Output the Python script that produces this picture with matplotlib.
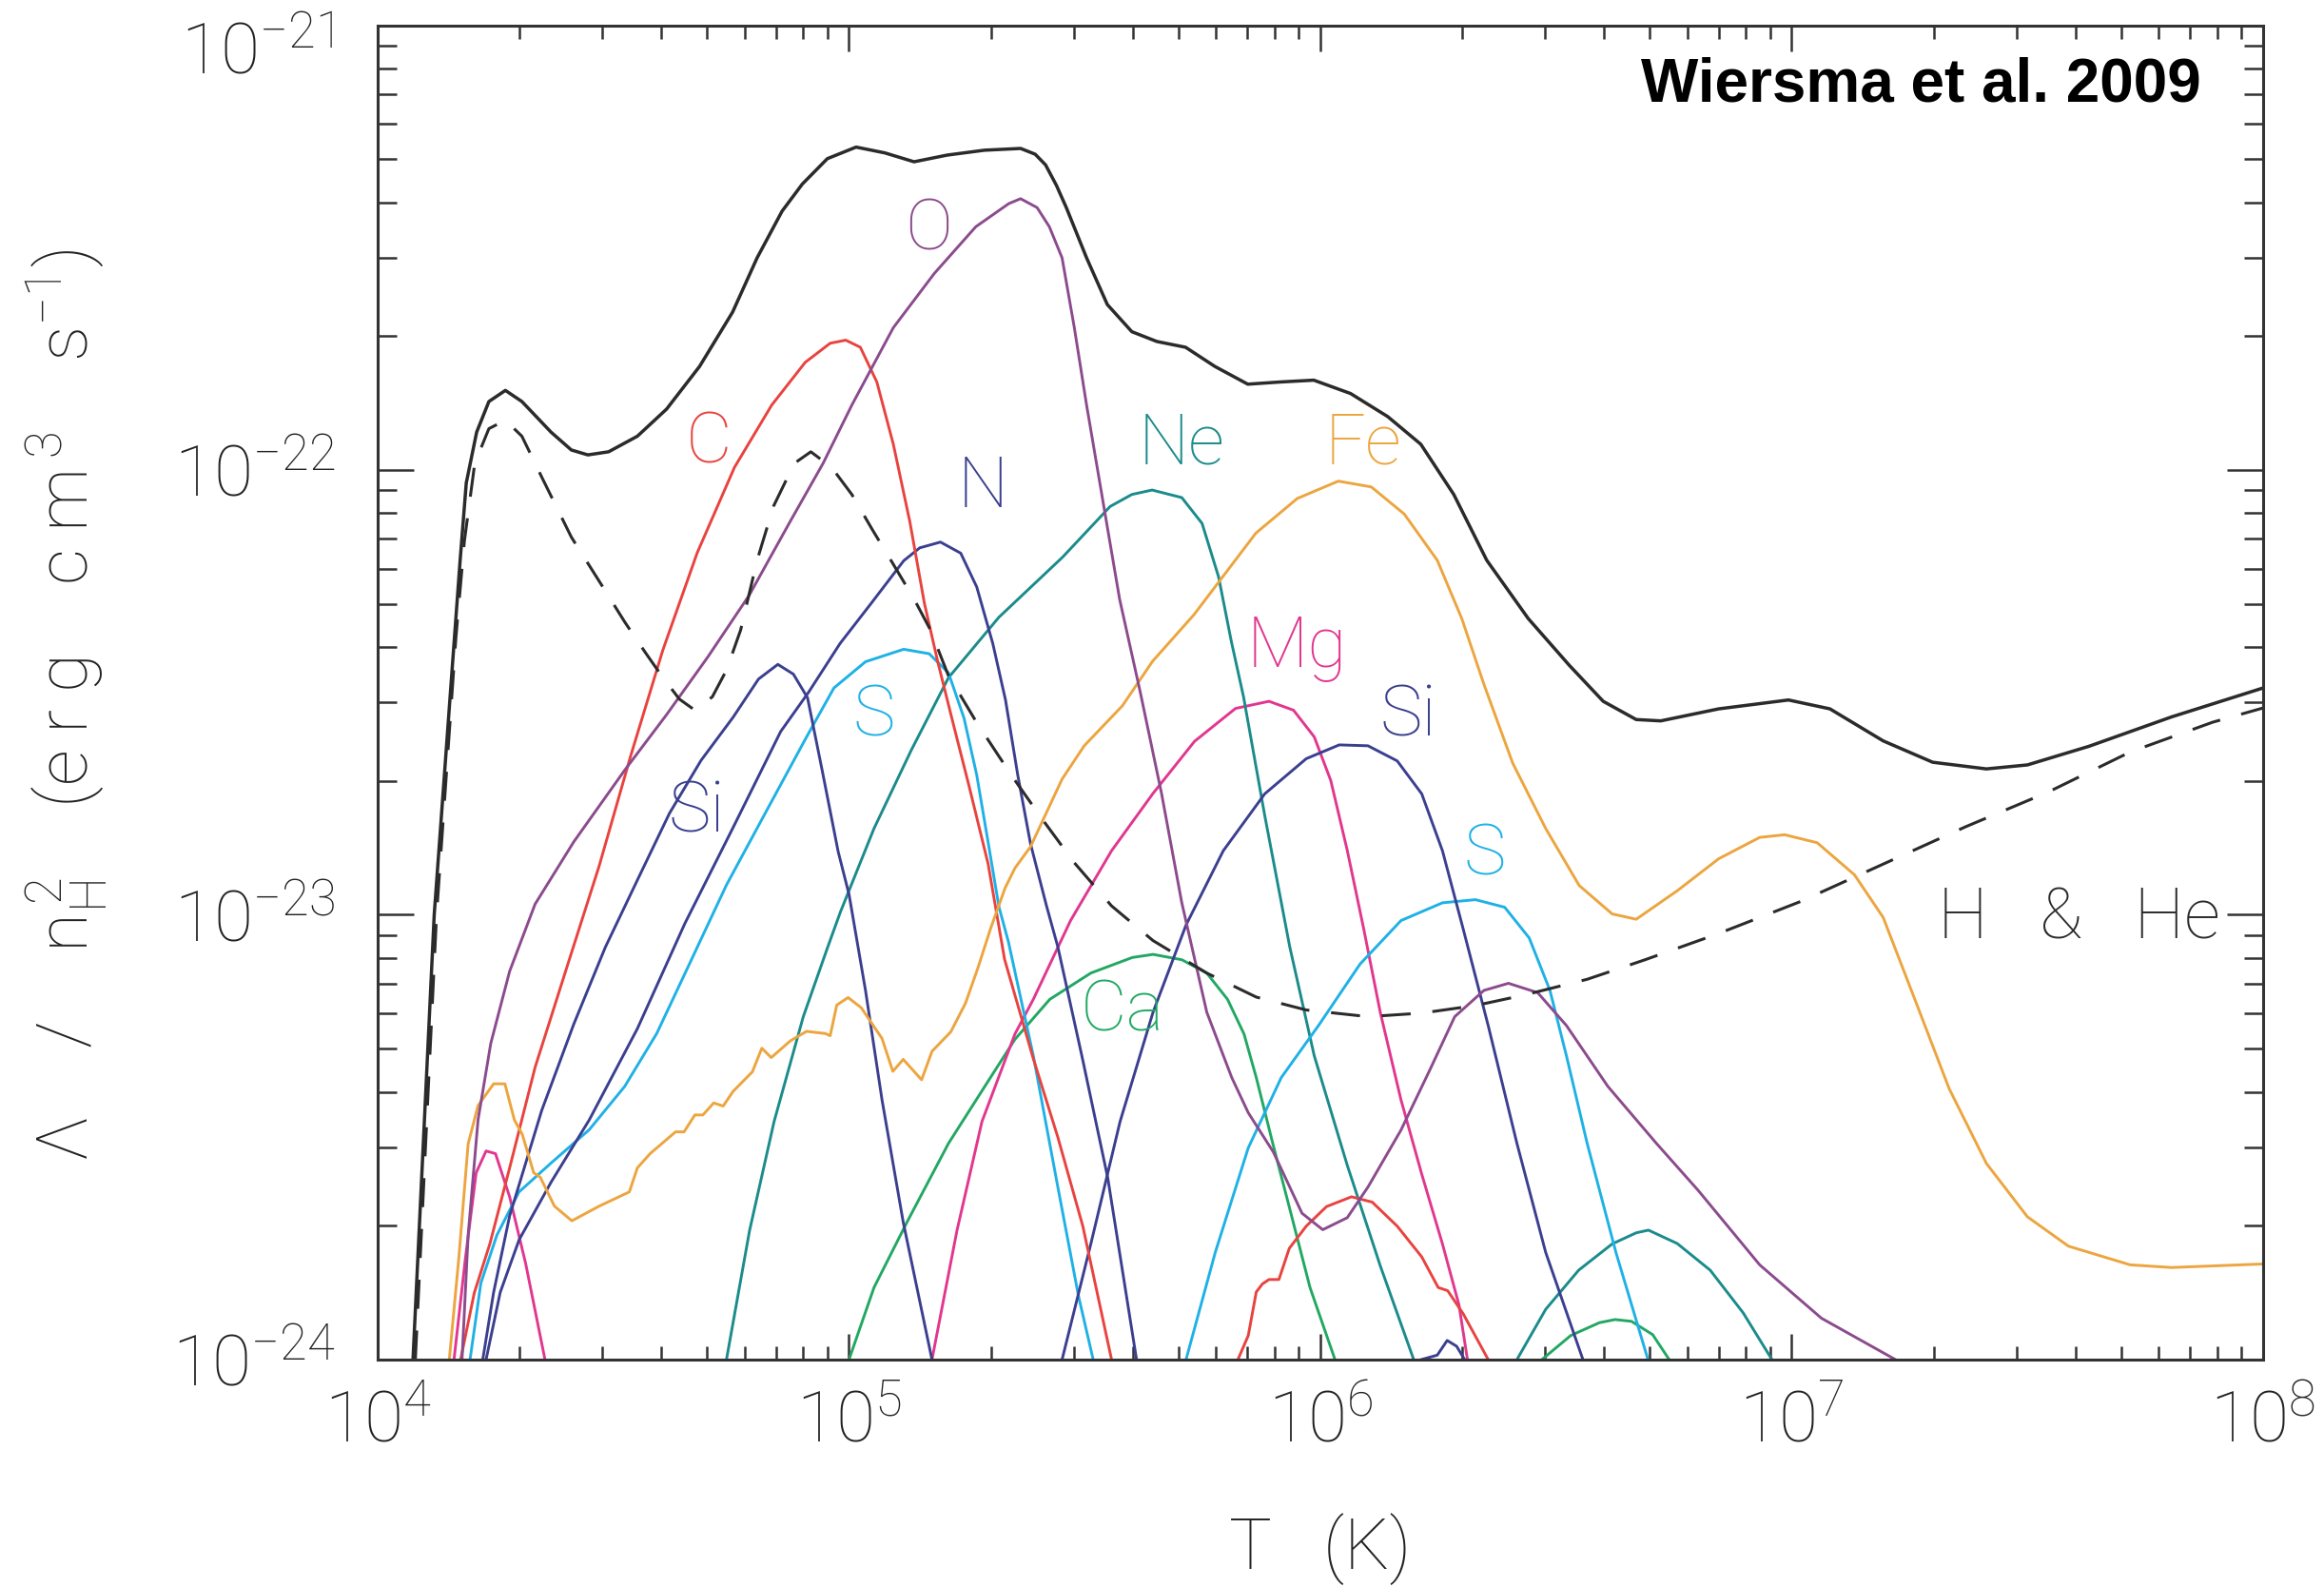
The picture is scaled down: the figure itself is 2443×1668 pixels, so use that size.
import numpy as np
import matplotlib
matplotlib.use('Agg')
import matplotlib.pyplot as plt
from matplotlib.ticker import LogLocator, NullFormatter

plt.rcParams['font.family'] = ['Roboto', 'DejaVu Sans']
plt.rcParams['font.weight'] = 'light'
plt.rcParams['axes.labelweight'] = 'light'
plt.rcParams['mathtext.default'] = 'regular'

# log10(T / K) and log10(Lambda / nH^2)
total_logT = [4.075, 4.12, 4.153, 4.175, 4.188, 4.21, 4.236, 4.271, 4.306, 4.368, 4.411, 4.446, 4.49,
              4.551, 4.613, 4.683, 4.753, 4.805, 4.858, 4.901, 4.954, 5.015, 5.076, 5.138, 5.208, 5.287,
              5.364, 5.395, 5.417, 5.44, 5.461, 5.504, 5.548, 5.6, 5.653, 5.714, 5.776, 5.846, 5.916, 5.986,
              6.064, 6.143, 6.213, 6.283, 6.353, 6.441, 6.528, 6.6, 6.67, 6.722, 6.845, 6.993, 7.081,
              7.194, 7.299, 7.413, 7.5, 7.631, 7.806, 8.0]
total_logL = [-24.0, -23.0, -22.52, -22.203, -22.029, -21.915, -21.846, -21.821, -21.846, -21.915, -21.955,
              -21.966, -21.959, -21.924, -21.863, -21.767, -21.645, -21.523, -21.418, -21.357, -21.3,
              -21.274, -21.287, -21.307, -21.292, -21.281, -21.277, -21.29, -21.314, -21.36, -21.41,
              -21.523, -21.628, -21.689, -21.711, -21.724, -21.767, -21.807, -21.802, -21.798, -21.828,
              -21.88, -21.942, -22.055, -22.203, -22.334, -22.439, -22.52, -22.561, -22.564, -22.537,
              -22.517, -22.537, -22.609, -22.657, -22.672, -22.663, -22.621, -22.555, -22.49]

hhe_logT = [4.08, 4.125, 4.166, 4.184, 4.206, 4.236, 4.271, 4.306, 4.35, 4.411, 4.473, 4.525, 4.569,
            4.604, 4.64, 4.673, 4.71, 4.74, 4.77, 4.805, 4.84, 4.884, 4.919, 4.963, 5.006, 5.05, 5.094,
            5.138, 5.173, 5.21, 5.271, 5.345, 5.412, 5.478, 5.557, 5.645, 5.759, 5.864, 5.97, 6.101,
            6.215, 6.329, 6.434, 6.566, 6.689, 6.845, 7.019, 7.194, 7.369, 7.544, 7.718, 7.893, 8.0]
hhe_logL = [-24.0, -23.0, -22.377, -22.16, -21.985, -21.907, -21.888, -21.924, -22.02, -22.151, -22.255,
            -22.343, -22.412, -22.465, -22.515, -22.54, -22.51, -22.45, -22.36, -22.203, -22.081,
            -21.985, -21.959, -21.994, -22.055, -22.135, -22.212, -22.29, -22.36, -22.46, -22.568,
            -22.687, -22.788, -22.883, -22.98, -23.058, -23.131, -23.185, -23.214, -23.229, -23.221,
            -23.204, -23.18, -23.145, -23.101, -23.042, -22.97, -22.886, -22.802, -22.724, -22.634,
            -22.567, -22.535]

O_logT = [4.179, 4.192, 4.213, 4.24, 4.28, 4.334, 4.416, 4.524, 4.613, 4.7, 4.788, 4.875, 4.945, 5.006,
          5.094, 5.181, 5.269, 5.339, 5.364, 5.399, 5.425, 5.452, 5.478, 5.504, 5.539, 5.574, 5.618,
          5.663, 5.706, 5.759, 5.812, 5.847, 5.9, 5.935, 5.961, 6.005, 6.057, 6.101, 6.171, 6.233,
          6.285, 6.347, 6.399, 6.461, 6.522, 6.61, 6.713, 6.801, 6.932, 7.063, 7.22]
O_logL = [-24.0, -23.72, -23.461, -23.289, -23.127, -22.976, -22.836, -22.675, -22.55, -22.421, -22.282,
          -22.116, -21.985, -21.854, -21.68, -21.558, -21.453, -21.401, -21.39, -21.41, -21.453, -21.523,
          -21.68, -21.854, -22.072, -22.29, -22.5, -22.727, -22.973, -23.219, -23.366, -23.445, -23.533,
          -23.612, -23.671, -23.708, -23.681, -23.612, -23.484, -23.347, -23.229, -23.17, -23.154,
          -23.175, -23.249, -23.386, -23.514, -23.619, -23.787, -23.907, -24.0]

C_logT = [4.176, 4.205, 4.238, 4.28, 4.334, 4.402, 4.47, 4.537, 4.605, 4.678, 4.757, 4.836, 4.907, 4.96,
          4.993, 5.024, 5.059, 5.094, 5.129, 5.16, 5.188, 5.221, 5.255, 5.295, 5.33, 5.39, 5.443,
          5.496, 5.557]
C_logL = [-24.0, -23.85, -23.74, -23.569, -23.343, -23.116, -22.89, -22.642, -22.405, -22.186, -21.994,
          -21.854, -21.758, -21.715, -21.708, -21.724, -21.802, -21.942, -22.116, -22.3, -22.43, -22.57,
          -22.712, -22.885, -23.1, -23.32, -23.5, -23.7, -24.0]
C2_logT = [5.825, 5.847, 5.864, 5.877, 5.891, 5.912, 5.934, 5.97, 6.013, 6.066, 6.11, 6.163, 6.215,
           6.25, 6.27, 6.303, 6.356]
C2_logL = [-24.0, -23.946, -23.848, -23.83, -23.82, -23.82, -23.75, -23.7, -23.656, -23.634, -23.646,
           -23.7, -23.769, -23.838, -23.845, -23.897, -24.0]

N_logT = [4.23, 4.26, 4.3, 4.368, 4.449, 4.551, 4.652, 4.754, 4.855, 4.914, 4.981, 5.049, 5.116, 5.15,
          5.194, 5.237, 5.271, 5.305, 5.332, 5.358, 5.385, 5.419, 5.443, 5.496, 5.549, 5.61]
N_logL = [-24.0, -23.849, -23.731, -23.601, -23.461, -23.256, -23.019, -22.804, -22.588, -22.5, -22.39,
          -22.297, -22.204, -22.175, -22.162, -22.187, -22.263, -22.39, -22.517, -22.686, -22.84, -22.98,
          -23.072, -23.327, -23.592, -24.0]
N2_logT = [6.214, 6.248, 6.269, 6.289, 6.306]
N2_logL = [-24.0, -23.99, -23.957, -23.97, -24.0]

Si_logT = [4.223, 4.246, 4.28, 4.348, 4.416, 4.483, 4.551, 4.619, 4.686, 4.754, 4.808, 4.849, 4.882,
           4.912, 4.943, 4.977, 5.0, 5.035, 5.07, 5.115, 5.176]
Si_logL = [-24.0, -23.849, -23.677, -23.44, -23.246, -23.073, -22.922, -22.772, -22.653, -22.556, -22.47,
           -22.437, -22.459, -22.512, -22.675, -22.858, -22.954, -23.17, -23.416, -23.691, -24.0]
Si2_logT = [5.452, 5.513, 5.575, 5.645, 5.715, 5.794, 5.882, 5.97, 6.04, 6.101, 6.163, 6.215, 6.259,
            6.303, 6.356, 6.417, 6.478, 6.557]
Si2_logL = [-24.0, -23.74, -23.465, -23.219, -23.023, -22.856, -22.728, -22.649, -22.618, -22.62, -22.654,
            -22.728, -22.856, -23.032, -23.249, -23.514, -23.759, -24.0]

S_logT = [4.196, 4.219, 4.253, 4.3, 4.368, 4.449, 4.524, 4.592, 4.659, 4.74, 4.822, 4.91, 4.968, 5.035,
          5.116, 5.17, 5.211, 5.244, 5.271, 5.298, 5.318, 5.338, 5.391, 5.443, 5.487, 5.518]
S_logL = [-24.0, -23.828, -23.72, -23.623, -23.558, -23.483, -23.386, -23.267, -23.116, -22.933, -22.772,
          -22.6, -22.49, -22.431, -22.403, -22.413, -22.456, -22.558, -22.686, -22.855, -22.982, -23.06,
          -23.317, -23.612, -23.858, -24.0]
S2_logT = [5.715, 5.777, 5.847, 5.917, 5.996, 6.084, 6.171, 6.259, 6.329, 6.391, 6.443, 6.487, 6.522,
           6.566, 6.627, 6.695]
S2_logL = [-24.0, -23.759, -23.524, -23.366, -23.249, -23.111, -23.013, -22.973, -22.966, -22.983, -23.052,
           -23.17, -23.317, -23.514, -23.759, -24.0]

Ne_logT = [4.74, 4.789, 4.841, 4.903, 4.954, 4.982, 5.053, 5.132, 5.211, 5.318, 5.453, 5.554, 5.6, 5.643,
           5.706, 5.749, 5.784, 5.811, 5.837, 5.882, 5.935, 5.987, 6.057, 6.127, 6.198]
Ne_logL = [-24.0, -23.71, -23.465, -23.229, -23.075, -22.993, -22.806, -22.63, -22.467, -22.331, -22.196,
           -22.082, -22.055, -22.045, -22.062, -22.12, -22.24, -22.385, -22.51, -22.777, -23.072, -23.317,
           -23.563, -23.789, -24.0]
Ne2_logT = [6.417, 6.478, 6.548, 6.619, 6.67, 6.696, 6.757, 6.827, 6.897, 6.958]
Ne2_logL = [-24.0, -23.887, -23.799, -23.74, -23.715, -23.709, -23.739, -23.799, -23.895, -24.0]

Fe_logT = [4.152, 4.172, 4.192, 4.213, 4.246, 4.27, 4.29, 4.307, 4.331, 4.345, 4.375, 4.412, 4.47, 4.534,
           4.551, 4.578, 4.632, 4.65, 4.673, 4.69, 4.713, 4.733, 4.754, 4.795, 4.815, 4.835, 4.876, 4.91,
           4.95, 4.96, 4.974, 4.998, 5.026, 5.07, 5.093, 5.115, 5.154, 5.176, 5.216, 5.247, 5.273, 5.3,
           5.331, 5.352, 5.385, 5.452, 5.499, 5.58, 5.644, 5.732, 5.863, 5.951, 6.038, 6.108, 6.178,
           6.248, 6.3, 6.347, 6.408, 6.478, 6.549, 6.619, 6.67, 6.757, 6.845, 6.932, 6.985, 7.054,
           7.133, 7.194, 7.264, 7.334, 7.413, 7.5, 7.587, 7.718, 7.806, 8.0]
Fe_logL = [-24.0, -23.774, -23.515, -23.429, -23.38, -23.38, -23.461, -23.494, -23.58, -23.59, -23.655,
           -23.688, -23.655, -23.623, -23.569, -23.537, -23.488, -23.488, -23.45, -23.45, -23.423, -23.43,
           -23.397, -23.353, -23.3, -23.321, -23.283, -23.262, -23.267, -23.272, -23.203, -23.186,
           -23.209, -23.278, -23.352, -23.325, -23.371, -23.307, -23.263, -23.199, -23.121, -23.032,
           -22.94, -22.895, -22.847, -22.695, -22.62, -22.53, -22.43, -22.325, -22.142, -22.064, -22.025,
           -22.038, -22.099, -22.203, -22.334, -22.482, -22.659, -22.806, -22.934, -22.998, -23.01,
           -22.946, -22.874, -22.826, -22.82, -22.838, -22.91, -23.006, -23.198, -23.391, -23.559,
           -23.679, -23.745, -23.787, -23.793, -23.785]

Mg_logT = [4.162, 4.186, 4.209, 4.23, 4.25, 4.28, 4.314, 4.355]
Mg_logL = [-24.0, -23.774, -23.58, -23.531, -23.537, -23.634, -23.784, -24.0]
Mg2_logT = [5.176, 5.229, 5.282, 5.352, 5.391, 5.47, 5.557, 5.645, 5.733, 5.82, 5.891, 5.943, 5.987,
            6.022, 6.057, 6.092, 6.127, 6.171, 6.215, 6.259, 6.294, 6.312]
Mg2_logL = [-24.0, -23.71, -23.465, -23.268, -23.19, -23.013, -22.856, -22.727, -22.61, -22.536, -22.52,
            -22.54, -22.6, -22.698, -22.855, -23.032, -23.219, -23.416, -23.583, -23.74, -23.877, -24.0]

Ca_logT = [5.0, 5.053, 5.123, 5.211, 5.3, 5.352, 5.426, 5.513, 5.601, 5.645, 5.706, 5.759, 5.803, 5.838,
           5.864, 5.899, 5.935, 5.978, 6.031]
Ca_logL = [-24.0, -23.838, -23.691, -23.514, -23.366, -23.28, -23.19, -23.131, -23.096, -23.089, -23.101,
           -23.131, -23.19, -23.268, -23.366, -23.514, -23.661, -23.838, -24.0]
Ca2_logT = [6.47, 6.531, 6.592, 6.625, 6.66, 6.705, 6.74]
Ca2_logL = [-24.0, -23.946, -23.917, -23.91, -23.914, -23.944, -24.0]

xtick_exp = [4, 5, 6, 7, 8]
ytick_exp = [-24, -23, -22, -21]

colors = {
    'C': '#e8433f', 'O': '#8b4b8d', 'N': '#3b3f8f', 'Si': '#3b3f8f', 'S': '#1fb1e6',
    'Ne': '#1b8b8b', 'Fe': '#eca53f', 'Mg': '#e1378f', 'Ca': '#22a863',
}

curves = [
    ('Ca', Ca_logT, Ca_logL), ('Ca', Ca2_logT, Ca2_logL),
    ('Mg', Mg_logT, Mg_logL), ('Mg', Mg2_logT, Mg2_logL),
    ('Ne', Ne_logT, Ne_logL), ('Ne', Ne2_logT, Ne2_logL),
    ('S', S_logT, S_logL), ('S', S2_logT, S2_logL),
    ('Si', Si_logT, Si_logL), ('Si', Si2_logT, Si2_logL),
    ('N', N_logT, N_logL), ('N', N2_logT, N2_logL),
    ('C', C_logT, C_logL), ('C', C2_logT, C2_logL),
    ('Fe', Fe_logT, Fe_logL),
    ('O', O_logT, O_logL),
]

# element labels: (text, log T, log Lambda at text centre)
labels = [
    ('O', 5.168, -21.462), ('C', 4.703, -21.94), ('N', 5.284, -22.04), ('Ne', 5.706, -21.942),
    ('Fe', 6.091, -21.942), ('Mg', 5.951, -22.40), ('Si', 6.186, -22.553), ('Si', 4.676, -22.77),
    ('S', 5.053, -22.553), ('S', 6.349, -22.867), ('Ca', 5.579, -23.217),
]

fig = plt.figure(figsize=(24.43, 16.68), dpi=100)
ax = fig.add_axes([0.1625, 0.1433, 0.8113, 0.8408])

for name, lt, ll in curves:
    ax.plot(10 ** np.array(lt), 10 ** np.array(ll), color=colors[name], lw=2.1, solid_joinstyle='round')

ax.plot(10 ** np.array(hhe_logT), 10 ** np.array(hhe_logL), color='#2b2b2b', lw=2.2,
        linestyle=(0, (10, 7.5)))
ax.plot(10 ** np.array(total_logT), 10 ** np.array(total_logL), color='#2b2b2b', lw=2.5,
        solid_joinstyle='round')

ax.set_xscale('log')
ax.set_yscale('log')
ax.set_xlim(1e4, 1e8)
ax.set_ylim(1e-24, 1e-21)

ax.xaxis.set_minor_locator(LogLocator(base=10, subs=np.arange(2, 10), numticks=20))
ax.yaxis.set_minor_locator(LogLocator(base=10, subs=np.arange(2, 10), numticks=20))
ax.xaxis.set_minor_formatter(NullFormatter())
ax.yaxis.set_minor_formatter(NullFormatter())
ax.set_xticks([10.0 ** e for e in xtick_exp], labels=['$10^{%d}$' % e for e in xtick_exp])
ax.set_yticks([10.0 ** e for e in ytick_exp],
              labels=['$10^{%d}$' % e if e != -21 else '' for e in ytick_exp])

ax.tick_params(axis='both', which='both', direction='in', top=True, right=True,
               color='#333333', width=1.8, labelsize=54, labelcolor='#222222')
ax.tick_params(axis='x', which='major', length=19.5, pad=22)
ax.tick_params(axis='x', which='minor', length=10)
ax.tick_params(axis='y', which='major', length=27.5, pad=32)
ax.tick_params(axis='y', which='minor', length=14.5)
for sp in ax.spines.values():
    sp.set_linewidth(2.2)
    sp.set_color('#333333')

# top y label sits a little below its tick, as in the original
ax.text(-0.0237, 10 ** (-21.065), '$10^{-21}$', transform=ax.get_yaxis_transform(),
        ha='right', va='center', fontsize=54, color='#222222')

ax.set_xlabel('T   (K)', fontsize=54, color='#222222', va='center')
ax.xaxis.set_label_coords(0.5, -0.142)
ax.set_ylabel(r'$\Lambda$    /    n$_H^{\,2}$    (e r g    c m$^{\,3}$    s$^{-1}$)', fontsize=54,
              color='#222222', va='center')
ax.yaxis.set_label_coords(-0.165, 0.49)

for txt, lt, ll in labels:
    ax.text(10 ** lt, 10 ** ll, txt, color=colors[txt], fontsize=54, ha='center', va='center')
ax.text(10 ** 7.61, 10 ** -23.01, 'H   &   He', color='#2b2b2b', fontsize=54, ha='center', va='center')

ax.text(0.967, 0.955, 'Wiersma et al. 2009', transform=ax.transAxes, ha='right', va='center',
        fontsize=46, fontweight='bold', family='Liberation Sans', color='black')

fig.savefig('out.png', dpi=100)
